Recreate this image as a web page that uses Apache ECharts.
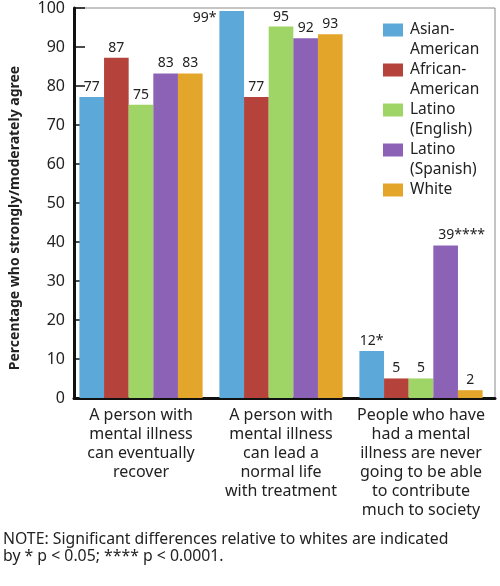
<!DOCTYPE html>
<html><head><meta charset="utf-8">
<script src="https://cdn.jsdelivr.net/npm/echarts@6/dist/echarts.min.js"></script>
<style>html,body{margin:0;padding:0;background:#fff}#c{width:500px;height:586px}</style>
</head><body><div id="c"></div>
<script>
const categories = [
  'A person with\nmental illness\ncan eventually\nrecover',
  'A person with\nmental illness\ncan lead a\nnormal life\nwith treatment',
  'People who have\nhad a mental\nillness are never\ngoing to be able\nto contribute\nmuch to society'
];
const seriesNames = ['Asian-\nAmerican', 'African-\nAmerican', 'Latino\n(English)', 'Latino\n(Spanish)', 'White'];
const asianAmerican = [77, 99, 12];
const africanAmerican = [87, 77, 5];
const latinoEnglish = [75, 95, 5];
const latinoSpanish = [83, 92, 39];
const white = [83, 93, 2];
const valueLabels = [
  ['77', '99*', '12*'],
  ['87', '77', '5'],
  ['75', '95', '5'],
  ['83', '92', '39****'],
  ['83', '93', '2']
];
const yTicks = [0, 10, 20, 30, 40, 50, 60, 70, 80, 90, 100];
const yAxisTitle = 'Percentage who strongly/moderately agree';
const noteText = 'NOTE: Significant differences relative to whites are indicated\nby * p < 0.05; **** p < 0.0001.';
const colors = ['#5ba8d9', '#b5433b', '#9fd466', '#8b62b6', '#e3a52a'];

const FONT = '"Noto Sans", "Open Sans", sans-serif';
const seriesValues = [asianAmerican, africanAmerican, latinoEnglish, latinoSpanish, white];

const series = seriesValues.map((vals, si) => ({
  name: seriesNames[si],
  type: 'bar',
  xAxisIndex: 0, yAxisIndex: 0,
  barGap: '0%',
  barCategoryGap: '12%',
  itemStyle: { color: colors[si] },
  label: {
    show: true, position: 'top', distance: 3,
    fontFamily: FONT, fontSize: 14, color: '#222',
    formatter: p => valueLabels[si][p.dataIndex]
  },
  data: vals.map((v, i) => {
    const d = { value: v };
    if (valueLabels[si][i] === '99*') {
      d.label = { position: [-3, 0], align: 'right', verticalAlign: 'top' };
    }
    if (valueLabels[si][i] === '39****') {
      d.label = { offset: [16, 0] };
    }
    return d;
  })
}));

const icon = 'path://M0,0M0,3.5h20v13h-20zM22,40';

const chart = echarts.init(document.getElementById('c'), null, { renderer: 'canvas' });
chart.setOption({
  animation: false,
  textStyle: { fontFamily: FONT },
  grid: [
    { left: 71, right: 9, top: 7, bottom: 188 },
    { left: 63, right: 5, top: 7, bottom: 188, show: true, borderColor: '#8a8a8a', borderWidth: 1, backgroundColor: 'transparent' }
  ],
  legend: {
    orient: 'vertical', left: 383, top: 20, padding: 0,
    itemWidth: 22, itemHeight: 40, itemGap: 0,
    textStyle: { fontFamily: FONT, fontSize: 15.5, lineHeight: 20, color: '#222' },
    formatter: n => (n.indexOf('\n') >= 0 ? n : n + '\n '),
    data: seriesNames.map(n => ({ name: n, icon: icon }))
  },
  xAxis: [
    {
      type: 'category', gridIndex: 0, data: categories,
      axisLine: { show: false }, axisTick: { show: false },
      axisLabel: { fontFamily: FONT, fontSize: 16, lineHeight: 19, color: '#222', margin: 8, interval: 0 }
    },
    {
      type: 'value', gridIndex: 1, min: 0, max: 1,
      axisLine: { show: true, lineStyle: { color: '#111', width: 3 } },
      axisTick: { show: false }, axisLabel: { show: false }, splitLine: { show: false }
    }
  ],
  yAxis: [
    {
      type: 'value', gridIndex: 0, min: yTicks[0], max: yTicks[yTicks.length - 1], show: false
    },
    {
      type: 'value', gridIndex: 1, min: yTicks[0], max: yTicks[yTicks.length - 1], interval: 10,
      name: yAxisTitle, nameLocation: 'middle', nameGap: 52,
      nameTextStyle: { fontFamily: FONT, fontSize: 14, fontWeight: 'bold', color: '#222', padding: [0, 30, 0, 0] },
      axisLine: { show: true, lineStyle: { color: '#111', width: 3 } },
      axisTick: { show: true, inside: true, length: 11, lineStyle: { color: '#111', width: 1.5 } },
      axisLabel: { fontFamily: FONT, fontSize: 16, color: '#222', margin: 9 },
      splitLine: { show: false }
    }
  ],
  graphic: [
    {
      type: 'text', left: 3, top: 531,
      style: { text: noteText, fontFamily: FONT, fontSize: 15.8, lineHeight: 17, fill: '#222' }
    }
  ],
  series: series
});
</script></body></html>
